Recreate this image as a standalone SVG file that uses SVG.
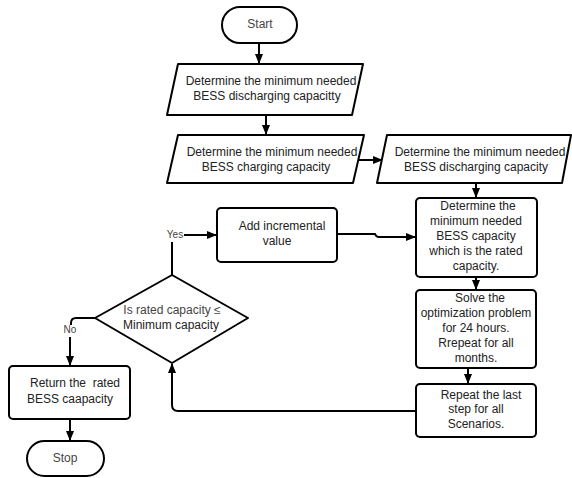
<svg xmlns="http://www.w3.org/2000/svg" width="572" height="478" viewBox="0 0 572 478">
<style>
.shape{fill:#fff;stroke:#000;stroke-width:2;stroke-linejoin:round}
.conn{fill:none;stroke:#000;stroke-width:2}
.t{font-family:"Liberation Sans",Arial,sans-serif;font-size:12px;fill:#222;text-anchor:middle}
.g{font-family:"Liberation Sans",Arial,sans-serif;font-size:12px;fill:#444;text-anchor:middle}
.lbl{font-family:"Liberation Sans",Arial,sans-serif;font-size:10px;fill:#444;text-anchor:middle}
</style>
<defs>
<marker id="arr" markerWidth="10" markerHeight="8" refX="9" refY="4" orient="auto" markerUnits="userSpaceOnUse">
<path d="M0,0 L10,4 L0,8 Z" fill="#000"/>
</marker>
</defs>
<rect width="572" height="478" fill="#fff"/>
<g id="connectors">
<path class="conn" d="M259,43 V63" marker-end="url(#arr)"/>
<path class="conn" d="M266,115 V134" marker-end="url(#arr)"/>
<path class="conn" d="M355,160 H382" marker-end="url(#arr)"/>
<path class="conn" d="M476,183 V197" marker-end="url(#arr)"/>
<path class="conn" d="M476,277 V289" marker-end="url(#arr)"/>
<path class="conn" d="M468,368 V383" marker-end="url(#arr)"/>
<path class="conn" d="M416,411 H178 Q172,411 172,405 V364" marker-end="url(#arr)"/>
<path class="conn" d="M172,275 V242"/>
<path class="conn" d="M184,235 H216" marker-end="url(#arr)"/>
<path class="conn" d="M337,234 H375 Q376,237 379,237 H415" marker-end="url(#arr)"/>
<path class="conn" d="M95,318 H76 Q71,318 71,323 V325"/>
<path class="conn" d="M70,337 V365" marker-end="url(#arr)"/>
<path class="conn" d="M70,419 V440" marker-end="url(#arr)"/>
<text class="lbl" x="175" y="238">Yes</text>
<text class="lbl" x="70" y="333">No</text>
</g>
<g id="start">
<rect class="shape" x="222" y="7" width="75" height="36" rx="18"/>
<text class="g" x="260" y="28">Start</text>
</g>
<g id="discharge1">
<polygon class="shape" points="178,64 363,64 352,115 167,115"/>
<text class="t" x="271" y="85">Determine the minimum needed</text>
<text class="t" x="267" y="100">BESS discharging capacitty</text>
</g>
<g id="charge">
<polygon class="shape" points="178,135 364,135 353,183 167,183"/>
<text class="t" x="272" y="156">Determine the minimum needed</text>
<text class="t" x="266" y="171">BESS charging capacity</text>
</g>
<g id="discharge2">
<polygon class="shape" points="387,135 571,135 562,183 377,183"/>
<text class="t" x="480" y="156">Determine the minimum needed</text>
<text class="t" x="476" y="171">BESS discharging capacity</text>
</g>
<g id="rated">
<rect class="shape" x="416" y="198" width="121" height="79" rx="4"/>
<text class="t" x="478" y="210">Determine the</text>
<text class="t" x="476" y="225">minimum needed</text>
<text class="t" x="476" y="240">BESS capacity</text>
<text class="t" x="476" y="255">which is the rated</text>
<text class="t" x="476" y="270">capacity.</text>
</g>
<g id="solve">
<rect class="shape" x="416" y="290" width="120" height="78" rx="4"/>
<text class="t" x="480" y="302">Solve the</text>
<text class="t" x="476" y="317">optimization problem</text>
<text class="t" x="476" y="332">for 24 hours.</text>
<text class="t" x="476" y="347">Rrepeat for all</text>
<text class="t" x="476" y="362">months.</text>
</g>
<g id="repeat">
<rect class="shape" x="416" y="384" width="120" height="53" rx="4"/>
<text class="t" x="481" y="399">Repeat the last</text>
<text class="t" x="476" y="413">step for all</text>
<text class="t" x="476" y="428">Scenarios.</text>
</g>
<g id="add">
<rect class="shape" x="217" y="208" width="120" height="54" rx="4"/>
<text class="t" x="282" y="230">Add incremental</text>
<text class="t" x="277" y="245">value</text>
</g>
<g id="decision">
<polygon class="shape" points="172,275 248,318 172,363 95,318"/>
<text class="g" x="172" y="314">Is rated capacity ≤</text>
<text class="t" x="171" y="329">Minimum capacity</text>
</g>
<g id="return">
<rect class="shape" x="9" y="366" width="121" height="53" rx="4"/>
<text class="t" x="75" y="387">Return the&#160; rated</text>
<text class="t" x="70" y="403">BESS caapacity</text>
</g>
<g id="stop">
<rect class="shape" x="27" y="441" width="77" height="35" rx="17.5"/>
<text class="g" x="65" y="462">Stop</text>
</g>
</svg>
